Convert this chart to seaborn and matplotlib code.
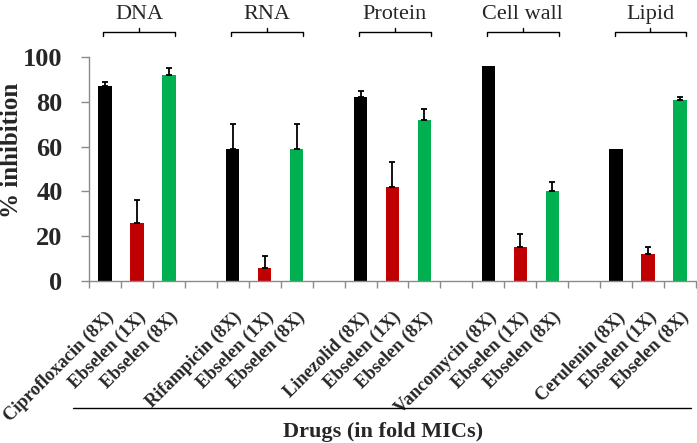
import seaborn as sns
import pandas as pd
import numpy as np
import matplotlib.pyplot as plt
from matplotlib.transforms import blended_transform_factory

# data
groups = ["DNA", "RNA", "Protein", "Cell wall", "Lipid"]
controls = ["Ciprofloxacin (8X)", "Rifampicin (8X)", "Linezolid (8X)",
            "Vancomycin (8X)", "Cerulenin (8X)"]
treatments = ["Control", "Ebselen (1X)", "Ebselen (8X)"]
inhibition = [[87, 26, 92],
              [59, 6, 59],
              [82, 42, 72],
              [96, 15, 40],
              [59, 12, 81]]
errors = [[2, 10, 3],
          [11, 5, 11],
          [3, 11, 5],
          [0, 6, 4],
          [0, 3, 1]]
bar_colors = ["#000000", "#c00000", "#00b050"]

rows = []
for g, grp in enumerate(groups):
    for j, tr in enumerate(treatments):
        label = controls[g] if j == 0 else tr
        rows.append({"group": grp, "treatment": tr, "label": label,
                     "pos": g * 4 + j,
                     "value": inhibition[g][j], "err": errors[g][j]})
df = pd.DataFrame(rows)

sns.set_style("white")
plt.rcParams['font.family'] = ['Liberation Serif', 'DejaVu Serif']

fig = plt.figure(figsize=(6.97, 4.43), dpi=100)
ax = fig.add_axes([89 / 697, 1 - 281 / 443, 607 / 697, 224 / 443])

sns.barplot(data=df, x="pos", y="value", hue="treatment", palette=bar_colors,
            native_scale=True, dodge=False, width=0.42, errorbar=None,
            legend=False, ax=ax, saturation=1, linewidth=0)

# upper-only error bars
e = df[df["err"] > 0]
ax.errorbar(e["pos"], e["value"], yerr=[np.zeros(len(e)), e["err"]],
            fmt="none", ecolor="black", elinewidth=1.3, capsize=2.5,
            capthick=1.3, zorder=3)

ax.set_xlim(-0.5, 18.5)
ax.set_ylim(0, 100)
ax.set_yticks(range(0, 101, 20))
ax.set_xticks(df["pos"])
ax.set_xticklabels(df["label"], rotation=45, ha="right",
                   rotation_mode="anchor", fontsize=13.2, fontweight="bold")
ax.set_xticks(np.arange(-0.5, 18.6, 1), minor=True)
ax.tick_params(axis="x", which="major", length=0, pad=20)
ax.tick_params(axis="x", which="minor", length=5, width=1, color="#8a8a8a",
               direction="out", bottom=True)
ax.tick_params(axis="y", length=6, width=1, color="#8a8a8a", direction="out",
               left=True, pad=13, labelsize=19)
for t in ax.get_yticklabels():
    t.set_fontweight("bold")
ax.set_xlabel("")
ax.set_ylabel("")
sns.despine(ax=ax)
for s in ["left", "bottom"]:
    ax.spines[s].set_color("#8a8a8a")
    ax.spines[s].set_linewidth(1)

# group brackets above the plot
tr = blended_transform_factory(ax.transData, ax.transAxes)
for g, grp in enumerate(groups):
    x0 = g * 4 - 0.05
    x1 = g * 4 + 2.2
    xm = g * 4 + 1.07
    ax.plot([x0, x0, x1, x1], [1.094, 1.112, 1.112, 1.094], color="black",
            lw=1, transform=tr, clip_on=False)
    ax.plot([xm, xm], [1.112, 1.13], color="black", lw=1, transform=tr,
            clip_on=False)
    ax.text(xm, 1.19, grp, transform=tr, ha="center", va="center",
            fontsize=16)

fig.text(12 / 697, 1 - 150 / 443, "% inhibition", rotation=90, ha="center",
         va="center", fontsize=18, fontweight="bold")
fig.add_artist(plt.Line2D([73 / 697, 691 / 697], [1 - 408 / 443] * 2,
                          color="black", lw=1))
fig.text(383 / 697, 1 - 437 / 443, "Drugs (in fold MICs)", ha="center",
         va="baseline", fontsize=16, fontweight="bold")

plt.savefig("out.png", dpi=100)
